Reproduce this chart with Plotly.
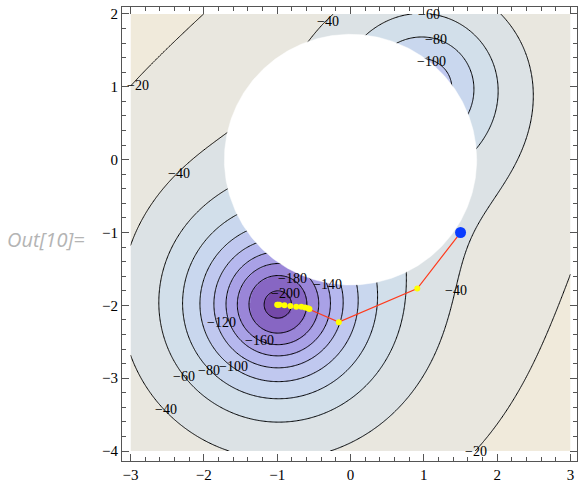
import numpy as np
import plotly.graph_objects as go

# ---- data ----
# potential wells (fitted to contour positions)
well_x = [-0.997, 0.997]
well_y = [-1.996, 1.012]
well_depth = [200.2, 99.64]
well_sharp = [1.006, 0.937]
well_power = [0.984, 1.039]
offset = 0.39

# excluded disk
disk_cx, disk_cy, disk_r = 0.0, 0.0, 1.72

# contour levels and band colours
levels = [-200, -180, -160, -140, -120, -100, -80, -60, -40, -20]
band_colors = ["#7448a8", "#8766c3", "#9a86d8", "#a9a1e6", "#b6b8ee",
               "#c0c8ef", "#c9d7ee", "#d2dfea", "#dce2e5", "#e9e7df", "#f0eadb"]

# optimisation path
path_x = [1.5, 0.91, -0.16, -0.56, -0.58, -0.62, -0.67, -0.74, -0.82, -0.90, -0.97, -0.99, -1.0]
path_y = [-1.0, -1.77, -2.23, -2.05, -2.04, -2.03, -2.02, -2.02, -2.01, -2.00, -1.99, -1.99, -1.99]

# contour labels (text, x, y)
lab_text = ["−20", "−40", "−40", "−60", "−80", "−100", "−180", "−140", "−200",
            "−120", "−160", "−100", "−80", "−60", "−40", "−40", "−20"]
lab_x = [-2.90, -0.31, -2.34, 1.07, 1.16, 1.10, -0.79, -0.31, -0.88,
         -1.76, -1.24, -1.59, -1.93, -2.27, -2.52, 1.44, 1.71]
lab_y = [1.02, 1.89, -0.19, 1.99, 1.65, 1.35, -1.63, -1.71, -1.84,
         -2.24, -2.48, -2.84, -2.90, -2.97, -3.43, -1.80, -4.0]

xticks = [-3, -2, -1, 0, 1, 2, 3]
yticks = [-4, -3, -2, -1, 0, 1, 2]

# ---- field ----
gx = np.linspace(-3, 3, 361)
gy = np.linspace(-4, 2, 361)
X, Y = np.meshgrid(gx, gy)
Z = np.full_like(X, offset)
for cx, cy, a, u, p in zip(well_x, well_y, well_depth, well_sharp, well_power):
    Z -= a / (1.0 + u * ((X - cx) ** 2 + (Y - cy) ** 2)) ** p

zmin, zmax = -220.0, 0.0
nb = len(band_colors)
cscale = []
for k, c in enumerate(band_colors):
    cscale.append([k / nb, c])
    cscale.append([(k + 1) / nb, c])

fig = go.Figure()
fig.add_trace(go.Contour(
    x=gx, y=gy, z=Z, zmin=zmin, zmax=zmax, zauto=False,
    colorscale=cscale, showscale=False,
    contours=dict(start=levels[0], end=levels[-1], size=20, coloring="heatmap",
                  showlabels=False),
    line=dict(color="black", width=1),
    hoverinfo="skip",
))

t = np.linspace(0, 2 * np.pi, 361)
fig.add_trace(go.Scatter(
    x=disk_cx + disk_r * np.cos(t), y=disk_cy + disk_r * np.sin(t),
    mode="lines", fill="toself", fillcolor="white",
    line=dict(color="white", width=0.5), hoverinfo="skip", showlegend=False))

fig.add_trace(go.Scatter(
    x=path_x, y=path_y, mode="lines",
    line=dict(color="#ff3a1c", width=1.2), showlegend=False))
fig.add_trace(go.Scatter(
    x=path_x[1:], y=path_y[1:], mode="markers",
    marker=dict(color="#ffff00", size=6, line=dict(width=0)), showlegend=False))
fig.add_trace(go.Scatter(
    x=path_x[:1], y=path_y[:1], mode="markers",
    marker=dict(color="#0a3cff", size=11, line=dict(width=0)), showlegend=False))

ann = []
for s, x, y in zip(lab_text, lab_x, lab_y):
    ann.append(dict(x=x, y=y, xref="x", yref="y", text=s, showarrow=False,
                    font=dict(family="Liberation Serif", size=14, color="black"),
                    xanchor="center", yanchor="middle"))
ann.append(dict(x=-0.167, y=0.487, xref="paper", yref="paper", text="<i>Out[10]=</i>",
                showarrow=False, xanchor="center", yanchor="middle",
                font=dict(family="Open Sans", size=20, color="#b4b4b4")))

axis_common = dict(
    showgrid=False, zeroline=False, showline=True, linecolor="#555555", linewidth=1,
    mirror="ticks", ticks="inside", ticklen=7, tickwidth=1, tickcolor="#555555",
    tickfont=dict(family="Liberation Serif", size=15, color="black"),
    minor=dict(ticks="inside", ticklen=4, tickwidth=1, tickcolor="#555555", dtick=0.2),
)

fig.update_layout(
    width=578, height=483,
    margin=dict(l=122, r=0, t=7, b=18),
    paper_bgcolor="white", plot_bgcolor="white",
    xaxis=dict(range=[-3.116, 3.088], tickvals=xticks,
               ticktext=[("−" + str(-v)) if v < 0 else str(v) for v in xticks],
               **axis_common),
    yaxis=dict(range=[-4.136, 2.095], tickvals=yticks,
               ticktext=[("−" + str(-v)) if v < 0 else str(v) for v in yticks],
               **axis_common),
    annotations=ann,
    showlegend=False,
)

fig.write_html("out.html")
